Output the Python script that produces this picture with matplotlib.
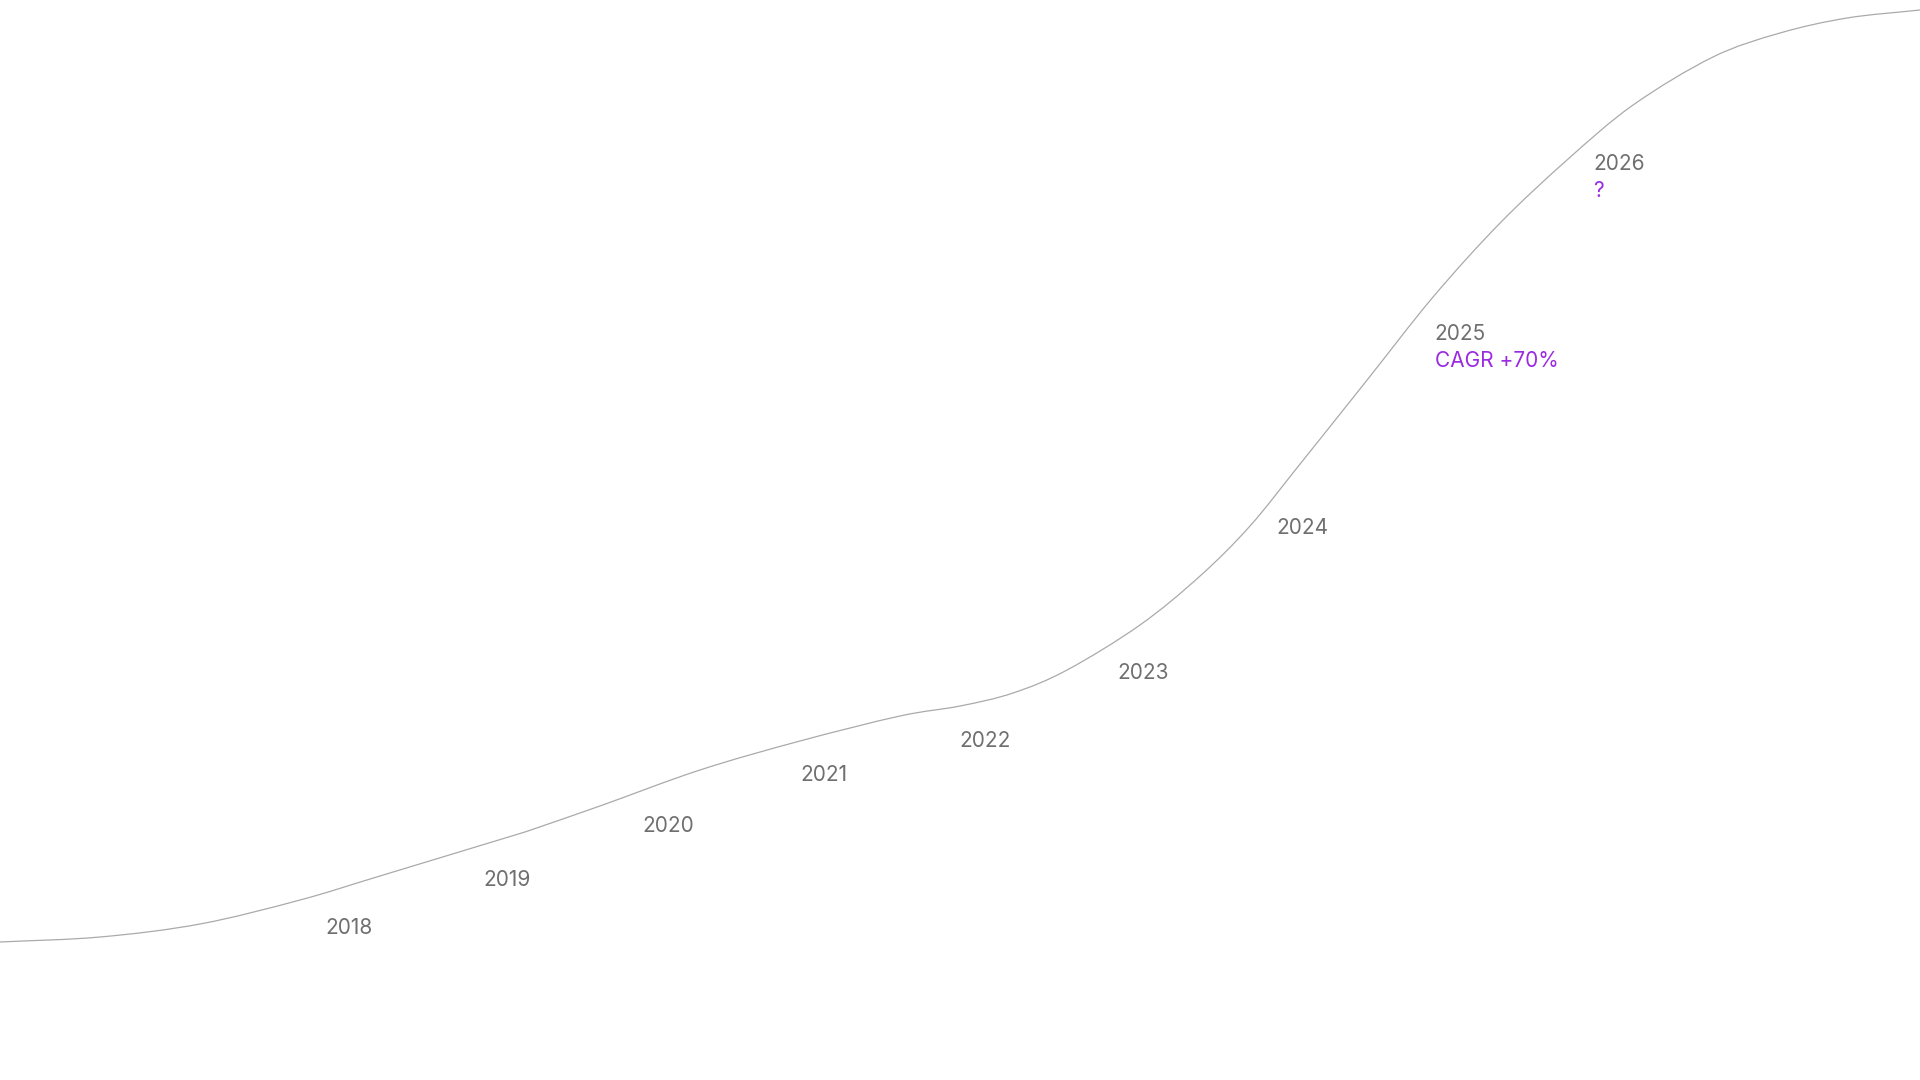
import matplotlib
matplotlib.use("Agg")
import matplotlib.pyplot as plt
from matplotlib.path import Path
from matplotlib.patches import PathPatch
import numpy as np

# ---- data -------------------------------------------------------------
years = [2018, 2019, 2020, 2021, 2022, 2023, 2024, 2025, 2026]
year_labels = ["2018", "2019", "2020", "2021", "2022", "2023", "2024", "2025", "2026"]
values = [18.8, 23.6, 29.0, 34.1, 37.5, 44.3, 58.8, 78.2, 95.2]
notes = {2025: "CAGR +70%", 2026: "?"}

# growth-curve trace (fractional years, index value),
# in two smooth pieces joined at the visible corner near 2019
trace_early_years = [2015.937, 2016.568, 2017.199, 2017.830, 2018.334, 2019.249]
trace_early_values = [13.8, 14.3, 15.6, 18.0, 20.4, 24.8]
trace_late_years = [2019.249, 2019.722, 2020.353, 2020.984, 2021.615, 2021.994,
                    2022.328, 2022.669, 2023.129, 2023.508, 2023.823, 2024.139,
                    2024.562, 2024.978, 2025.401, 2025.823, 2026.240, 2026.744,
                    2027.167, 2027.590, 2028.050]
trace_late_values = [24.8, 27.4, 31.0, 33.9, 36.4, 37.4,
                     38.7, 41.0, 45.5, 50.4, 55.4, 61.6,
                     70.0, 78.3, 85.7, 92.0, 97.5, 102.3,
                     104.7, 106.2, 107.0]

# ---- figure -----------------------------------------------------------
fig = plt.figure(figsize=(19.2, 10.8), dpi=100)
ax = fig.add_axes([0, 0, 1, 1])
ax.set_xlim(2015.937, 2028.050)
ax.set_ylim(0, 108)
ax.axis("off")


def smooth_path(xs, ys):
    """Catmull-Rom through the points, emitted as cubic Bezier segments."""
    P = np.column_stack([xs, ys]).astype(float)
    Pe = np.vstack([2 * P[0] - P[1], P, 2 * P[-1] - P[-2]])
    verts = [tuple(P[0])]
    codes = [Path.MOVETO]
    for i in range(1, len(Pe) - 2):
        p0, p1, p2, p3 = Pe[i - 1], Pe[i], Pe[i + 1], Pe[i + 2]
        c1 = p1 + (p2 - p0) / 6.0
        c2 = p2 - (p3 - p1) / 6.0
        verts += [tuple(c1), tuple(c2), tuple(p2)]
        codes += [Path.CURVE4] * 3
    return verts, codes


all_v, all_c = [], []
for xs, ys in [(trace_early_years, trace_early_values),
               (trace_late_years, trace_late_values)]:
    v, c = smooth_path(xs, ys)
    if all_v:
        c[0] = Path.LINETO
    all_v += v
    all_c += c
ax.add_patch(PathPatch(Path(all_v, all_c), facecolor="none",
                       edgecolor="#aaaaaa", lw=0.9, joinstyle="round"))

font = "Inter"
grey = "#6f6f6f"
purple = "#9a2be0"
for y, lab, v in zip(years, year_labels, values):
    ax.annotate(lab, xy=(y, v), xytext=(-2, -42), textcoords="offset pixels",
                ha="left", va="baseline", fontsize=15, color=grey,
                family=font)
    if y in notes:
        ax.annotate(notes[y], xy=(y, v), xytext=(-2, -69),
                    textcoords="offset pixels", ha="left", va="baseline",
                    fontsize=15, color=purple, family=font)

fig.savefig("out.png", dpi=100, facecolor="white")
